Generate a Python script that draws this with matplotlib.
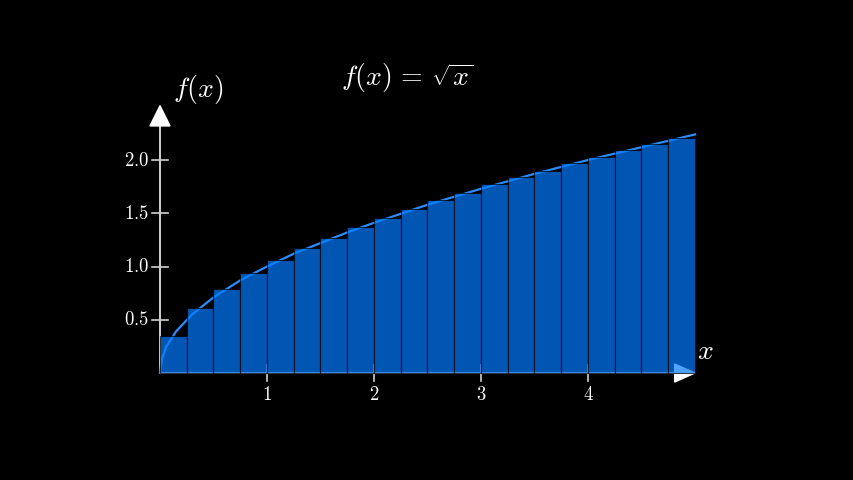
import numpy as np
import matplotlib.pyplot as plt
from matplotlib.patches import Polygon

plt.rcParams["mathtext.fontset"] = "cm"

# ================ Data ================
bar_left = [0.0, 0.25, 0.5, 0.75, 1.0, 1.25, 1.5, 1.75, 2.0, 2.25,
            2.5, 2.75, 3.0, 3.25, 3.5, 3.75, 4.0, 4.25, 4.5, 4.75]
bar_height = [0.35, 0.61, 0.79, 0.94, 1.06, 1.17, 1.27, 1.37, 1.46, 1.54,
              1.62, 1.69, 1.77, 1.84, 1.90, 1.97, 2.03, 2.09, 2.15, 2.21]
bar_width = 0.25

curve_x = [0.0, 0.02, 0.06, 0.15, 0.3, 0.5, 0.75, 1.0, 1.25, 1.5, 1.75, 2.0,
           2.5, 3.0, 3.5, 4.0, 4.5, 5.0]
curve_y = [0.0, 0.14, 0.25, 0.39, 0.55, 0.71, 0.87, 1.0, 1.12, 1.22, 1.32, 1.41,
           1.58, 1.73, 1.87, 2.0, 2.12, 2.24]

x_ticks = [1, 2, 3, 4]
y_ticks = [0.5, 1.0, 1.5, 2.0]
y_tick_labels = ["0.5", "1.0", "1.5", "2.0"]

# ================ Style ================
_AXIS = "#d0d0d0"
_CURVE = "#2a8cff"
_BAR = "#007cff"

W, H = 854, 480
X0, Y0 = 160, 373          # pixel position of origin (from top)
SX, SY = 107.0, 106.5      # pixels per unit

fig = plt.figure(figsize=(W / 100, H / 100), dpi=100, facecolor="black")
ax = fig.add_axes([0, 0, 1, 1])
ax.set_facecolor("black")
ax.set_xlim(-X0 / SX, (W - X0) / SX)
ax.set_ylim(-(H - Y0) / SY, Y0 / SY)
ax.axis("off")

# -------- axes --------
ax.plot([0, 4.85], [0, 0], color=_AXIS, lw=1.4, zorder=1, solid_capstyle="butt")
ax.plot([0, 0], [0, 2.36], color=_AXIS, lw=1.4, zorder=1, solid_capstyle="butt")
ax.add_patch(Polygon([[5.0, 0], [4.81, 0.085], [4.81, -0.085]], closed=True,
                     color="white", zorder=1))
ax.add_patch(Polygon([[0, 2.51], [-0.094, 2.32], [0.094, 2.32]], closed=True,
                     color="white", zorder=1))

tx = 8 / SX
ty = 8 / SY
for t in x_ticks:
    ax.plot([t, t], [-ty, ty], color=_AXIS, lw=1.2, zorder=1)
    ax.text(t, -0.2, "$%d$" % t, color="white", fontsize=13.5,
            ha="center", va="center")
for t, lab in zip(y_ticks, y_tick_labels):
    ax.plot([-tx, tx], [t, t], color=_AXIS, lw=1.2, zorder=1)
    ax.text(-0.22, t, "$%s$" % lab, color="white", fontsize=13.5,
            ha="center", va="center")

# -------- curve + bars --------
ax.plot(curve_x, curve_y, color=_CURVE, lw=1.6, zorder=2)
ax.bar(bar_left, bar_height, width=bar_width, align="edge",
       color=_BAR, alpha=0.7, edgecolor="black", linewidth=0.8, zorder=3)

# -------- labels --------
ax.text(5.10, 0.21, "$x$", color="white", fontsize=20, ha="center", va="center")
ax.text(0.36, 2.66, "$f(x)$", color="white", fontsize=20, ha="center", va="center")
ax.text(2.31, 2.77, r"$f(x)\,=\,\sqrt{x}$", color="white", fontsize=20,
        ha="center", va="center")

fig.savefig("out.png", dpi=100, facecolor="black")
